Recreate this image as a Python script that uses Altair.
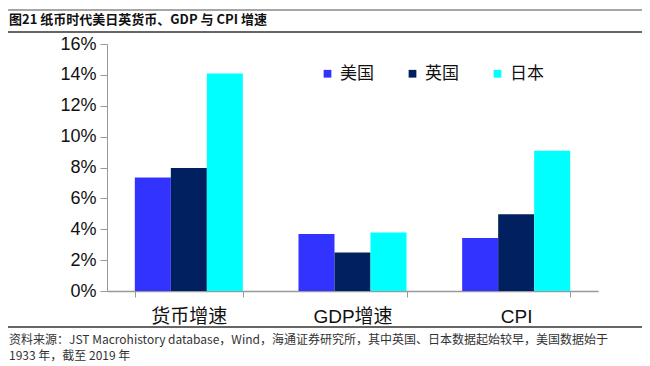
import altair as alt
import pandas as pd

categories = ["货币增速", "GDP增速", "CPI"]
countries = ["美国", "英国", "日本"]
us = [0.0735, 0.0370, 0.0344]
uk = [0.0796, 0.0250, 0.0497]
jp = [0.1409, 0.0379, 0.0908]
colors = ["#3333FF", "#002060", "#00FFFF"]
y_ticks = [0, 0.02, 0.04, 0.06, 0.08, 0.10, 0.12, 0.14, 0.16]

title_text = "图21 纸币时代美日英货币、GDP 与 CPI 增速"
source_1 = "资料来源：JST Macrohistory database，Wind，海通证券研究所，其中英国、日本数据起始较早，美国数据始于"
source_2 = "1933 年，截至 2019 年"

rows = []
for c, name in enumerate(categories):
    for s, vals in zip(countries, [us, uk, jp]):
        rows.append({"cat": name, "country": s, "value": vals[c]})
df = pd.DataFrame(rows)

W, H = 491, 247
CJK = "Noto Sans CJK SC"
LAT = "Liberation Sans, Arial, Noto Sans CJK SC"

bars = alt.Chart(df).mark_bar().encode(
    x=alt.X("cat:N", sort=categories,
            scale=alt.Scale(paddingInner=0.34, paddingOuter=0.17),
            axis=alt.Axis(title=None, labelAngle=0, labelFont=LAT, labelFontSize=19,
                          labelColor="#111", labelPadding=10, tickBand="extent",
                          tickSize=6, tickColor="#999", domainColor="#999",
                          domainWidth=1.5)),
    xOffset=alt.XOffset("country:N", sort=countries, scale=alt.Scale(paddingInner=0, paddingOuter=0)),
    y=alt.Y("value:Q", scale=alt.Scale(domain=[0, 0.16], nice=False),
            axis=alt.Axis(title=None, values=y_ticks, format=".0%", grid=False,
                          labelFont=LAT, labelFontSize=18, labelColor="#111",
                          tickSize=7, tickColor="#999", domainColor="#999",
                          labelPadding=4)),
    color=alt.Color("country:N", sort=countries,
                    scale=alt.Scale(domain=countries, range=colors),
                    legend=alt.Legend(title=None, orient="none", direction="horizontal",
                                      legendX=212, legendY=21, symbolType="square",
                                      symbolSize=60, symbolStrokeWidth=0,
                                      labelFont=CJK, labelFontSize=17, labelColor="#111",
                                      labelOffset=4, columnPadding=30)),
)

def text_layer(txt, x, y, size, weight="normal", color="#222", font=CJK):
    return alt.Chart(pd.DataFrame({"t": [txt]})).mark_text(
        align="left", baseline="middle", fontSize=size, fontWeight=weight,
        color=color, font=font
    ).encode(text="t:N", x=alt.value(x), y=alt.value(y))

def hline(y, color, width):
    return alt.Chart(pd.DataFrame({"a": [0]})).mark_rule(color=color, strokeWidth=width).encode(
        x=alt.value(-99), x2=alt.value(535), y=alt.value(y))

chart = alt.layer(
    bars,
    hline(-34, "#888", 1.5),
    hline(-12, "#333", 1.5),
    hline(283, "#333", 1.5),
    text_layer(title_text, -98, -24, 13, weight="bold", color="#111"),
    text_layer(source_1, -98, 295.5, 12, color="#333"),
    text_layer(source_2, -98, 312, 12, color="#333"),
).properties(
    width=W, height=H,
    padding={"left": 99, "top": 36, "right": 44, "bottom": 74},
    autosize=alt.AutoSizeParams(type="none"),
).configure_view(stroke=None)

chart.save("out.html", embed_options={"renderer": "svg", "actions": False})
